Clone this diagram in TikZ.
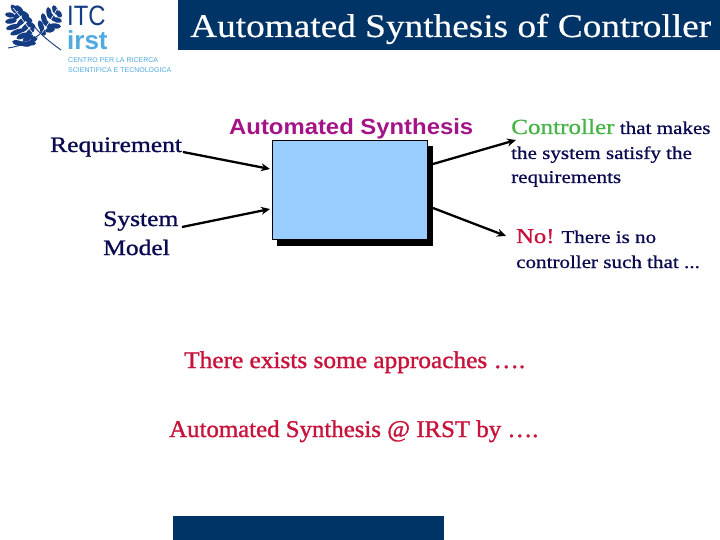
\documentclass[tikz,border=0pt]{standalone}
\usepackage{fontspec}
\setmainfont{Liberation Serif}
\newfontfamily\hdsans{Liberation Sans}
\newfontfamily\itcsans[FakeStretch=0.85]{Liberation Sans}
\newfontfamily\gtitle[FakeStretch=1.13,FakeBold=0.4]{Liberation Serif}
\newfontfamily\glab[FakeStretch=1.17,FakeBold=0.8]{Liberation Serif}
\newfontfamily\gleft[FakeStretch=1.16,FakeBold=1.1]{Liberation Serif}
\newfontfamily\gbotA[FakeStretch=1.055,FakeBold=1.3]{Liberation Serif}
\newfontfamily\gbotB[FakeStretch=1.035,FakeBold=1.3]{Liberation Serif}
\newfontfamily\ghead[FakeStretch=1.085]{Liberation Sans Bold}
\definecolor{navy}{RGB}{0,51,102}
\definecolor{inktxt}{RGB}{10,10,80}
\definecolor{boxblue}{RGB}{153,204,255}
\definecolor{magtxt}{RGB}{165,20,135}
\definecolor{grntxt}{RGB}{70,180,70}
\definecolor{redtxt}{RGB}{200,20,60}
\definecolor{logolight}{RGB}{80,170,225}
\definecolor{logodark}{RGB}{20,60,130}
\usetikzlibrary{arrows.meta}
\tikzset{
 x=1pt,y=-1pt,
 lbl/.style={inner sep=0pt,anchor=base west,text=inktxt,font=\glab\fontsize{#1}{#1}\selectfont},
 lblL/.style={inner sep=0pt,anchor=base west,text=inktxt,font=\gleft\fontsize{#1}{#1}\selectfont},
 flow/.style={line width=2.3pt,-{Stealth[length=9pt,width=8pt]},black},
 bigred/.style={inner sep=0pt,anchor=base west,text=redtxt}
}
\begin{document}
\begin{tikzpicture}
\useasboundingbox (0,0) rectangle (720,540);
\fill[white] (0,0) rectangle (720,540);
% banner and footer
\fill[navy] (178,0) rectangle (720,50);
\fill[navy] (173,516) rectangle (444,540);
\node[inner sep=0pt,anchor=base west,text=white,font=\gtitle\fontsize{33}{33}\selectfont] (title) at (190,37) {Automated Synthesis of Controller};
% logo: leaflets
\foreach \px/\py/\ang/\rl in {
 14/9/-60/5, 19/9/-40/5, 24/14/-30/6, 27/19/-25/6, 31/25/-30/5,
 10/15/-10/5, 11/21/10/6, 13/27/15/7, 17/32/20/7, 22/36/25/6, 28/38/30/6, 34/39/30/4,
 18/15/40/6, 22/21/45/7, 26/27/45/7, 30/32/45/6,
 18/43/-15/6, 25/44/-10/6, 31/43/-5/5,
 55/10/-70/5, 59/14/-60/4, 57/20/-15/5, 55/26/-5/6, 50/30/10/5,
 49/13/-80/6, 44/19/-75/6, 41/26/-70/6, 52/17/-50/5, 47/24/-50/6, 43/32/-60/4}{
 \fill[logodark,rotate around={\ang:(\px,\py)}] (\px,\py) ellipse (\rl pt and 2.6pt);
}
\draw[white,line width=0.6pt] (13,8) .. controls (22,18) and (28,28) .. (37,38);
\draw[white,line width=0.6pt] (57,9) .. controls (52,18) and (47,26) .. (41,34);
\draw[logodark,line width=0.9pt] (33,25) .. controls (42,36) and (50,42) .. (61,50);
\draw[logodark,line width=0.9pt] (42,32) .. controls (33,41) and (22,46) .. (8,48);
\node[inner sep=0pt,anchor=base west,text=logodark,font=\itcsans\fontsize{28}{28}\selectfont] (itc) at (67,26) {ITC};
\node[inner sep=0pt,anchor=base west,text=logolight,font=\hdsans\bfseries\fontsize{26}{26}\selectfont] (irst) at (67,50) {irst};
\node[inner sep=0pt,anchor=base west,text=logolight,font=\hdsans\fontsize{7}{7}\selectfont] (l1) at (68,63) {CENTRO PER LA RICERCA};
\node[inner sep=0pt,anchor=base west,text=logolight,font=\hdsans\fontsize{7}{7}\selectfont] (l2) at (68,73) {SCIENTIFICA E TECNOLOGICA};
% box
\fill[black] (277,146) rectangle (433,246);
\node[draw=black,fill=boxblue,line width=0.5pt,minimum width=155pt,minimum height=99pt,inner sep=0pt,anchor=north west] (synth) at (272,140) {};
\node[inner sep=0pt,anchor=base west,text=magtxt,font=\ghead\fontsize{22}{22}\selectfont] (synthlbl) at (229,135) {Automated Synthesis};
% left labels
\node[lblL=22] (req) at (50,152) {Requirement};
\node[lblL=22] (sys) at (103,226) {System};
\node[lblL=22] (model) at (103,255) {Model};
\coordinate (reqend) at (183,152);
\coordinate (sysend) at (182,227);
\coordinate (inA) at (270,169);
\coordinate (inB) at (270,209);
\draw[flow] (reqend) -- (inA);
\draw[flow] (sysend) -- (inB);
% right labels
\node[lbl=18] (c1) at (511,134) {\textcolor{grntxt}{\fontsize{21.5}{21.5}\selectfont Controller} that makes};
\node[lbl=18] (c2) at (511,159) {the system satisfy the};
\node[lbl=18] (c3) at (511,183) {requirements};
\node[lbl=18] (n1) at (516,243) {\textcolor{redtxt}{\fontsize{21}{21}\selectfont No!} There is no};
\node[lbl=18] (n2) at (516,268) {controller such that ...};
\coordinate (outA) at (433,164);
\coordinate (outB) at (433,208);
\coordinate (cpt) at (516,140);
\coordinate (npt) at (506,236);
\draw[flow] (outA) -- (cpt);
\draw[flow] (outB) -- (npt);
% bottom text
\node[bigred,font=\gbotA\fontsize{24}{24}\selectfont] (t1) at (184,368) {There exists some approaches ….};
\node[bigred,font=\gbotB\fontsize{24}{24}\selectfont] (t2) at (169,437) {Automated Synthesis @ IRST by ….};
\end{tikzpicture}
\end{document}
